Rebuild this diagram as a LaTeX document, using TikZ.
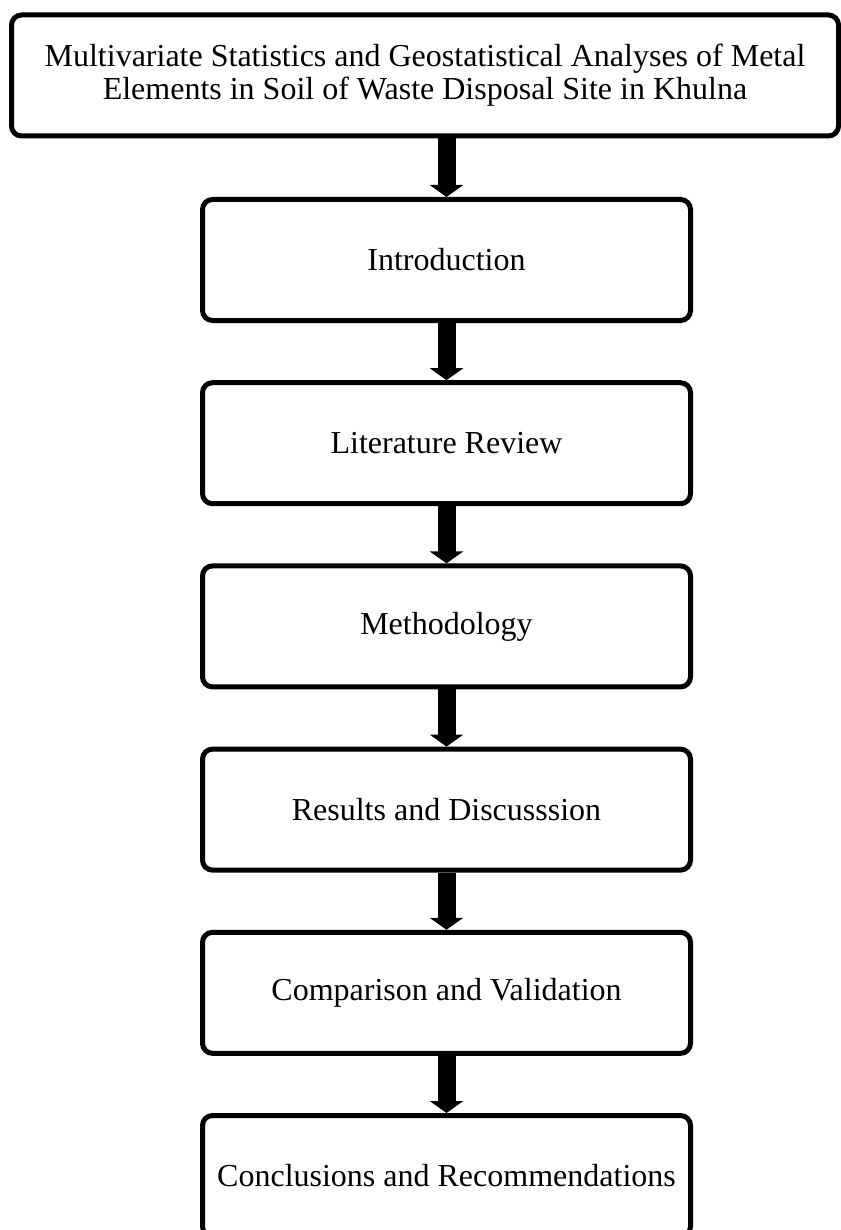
\documentclass[tikz,border=0pt]{standalone}
\usepackage{fontspec}
\setmainfont{Liberation Serif}
\usetikzlibrary{arrows.meta}
\tikzset{
  stagebox/.style={draw=black, line width=5pt, rounded corners=10pt, fill=white,
    minimum width=488pt, minimum height=121pt, align=center,
    font=\fontsize{32}{33}\selectfont},
  titlebox/.style={stagebox, minimum width=827pt, minimum height=121pt},
  flowarrow/.style={line width=18pt, draw=black, -{Triangle[width=33pt,length=12pt]}}
}
\begin{document}
\begin{tikzpicture}[x=1pt,y=1pt]
\useasboundingbox (0,0) rectangle (840,-1230);
\node[titlebox] (t) at (425,-75.5) {Multivariate Statistics and Geostatistical Analyses of Metal\\Elements in Soil of Waste Disposal Site in Khulna};
\node[stagebox] (i) at (446.5,-260) {Introduction};
\node[stagebox] (l) at (446.5,-443.2) {Literature Review};
\node[stagebox] (m) at (446.5,-626.4) {Methodology};
\node[stagebox] (r) at (446.5,-809.6) {Results and Discusssion};
\node[stagebox] (c) at (446.5,-992.8) {Comparison and Validation};
\node[stagebox] (k) at (446.5,-1176) {Conclusions and Recommendations};
\draw[flowarrow] (t.south -| i.north) -- (i.north);
\draw[flowarrow] (i.south) -- (l.north);
\draw[flowarrow] (l.south) -- (m.north);
\draw[flowarrow] (m.south) -- (r.north);
\draw[flowarrow] (r.south) -- (c.north);
\draw[flowarrow] (c.south) -- (k.north);
\end{tikzpicture}
\end{document}
